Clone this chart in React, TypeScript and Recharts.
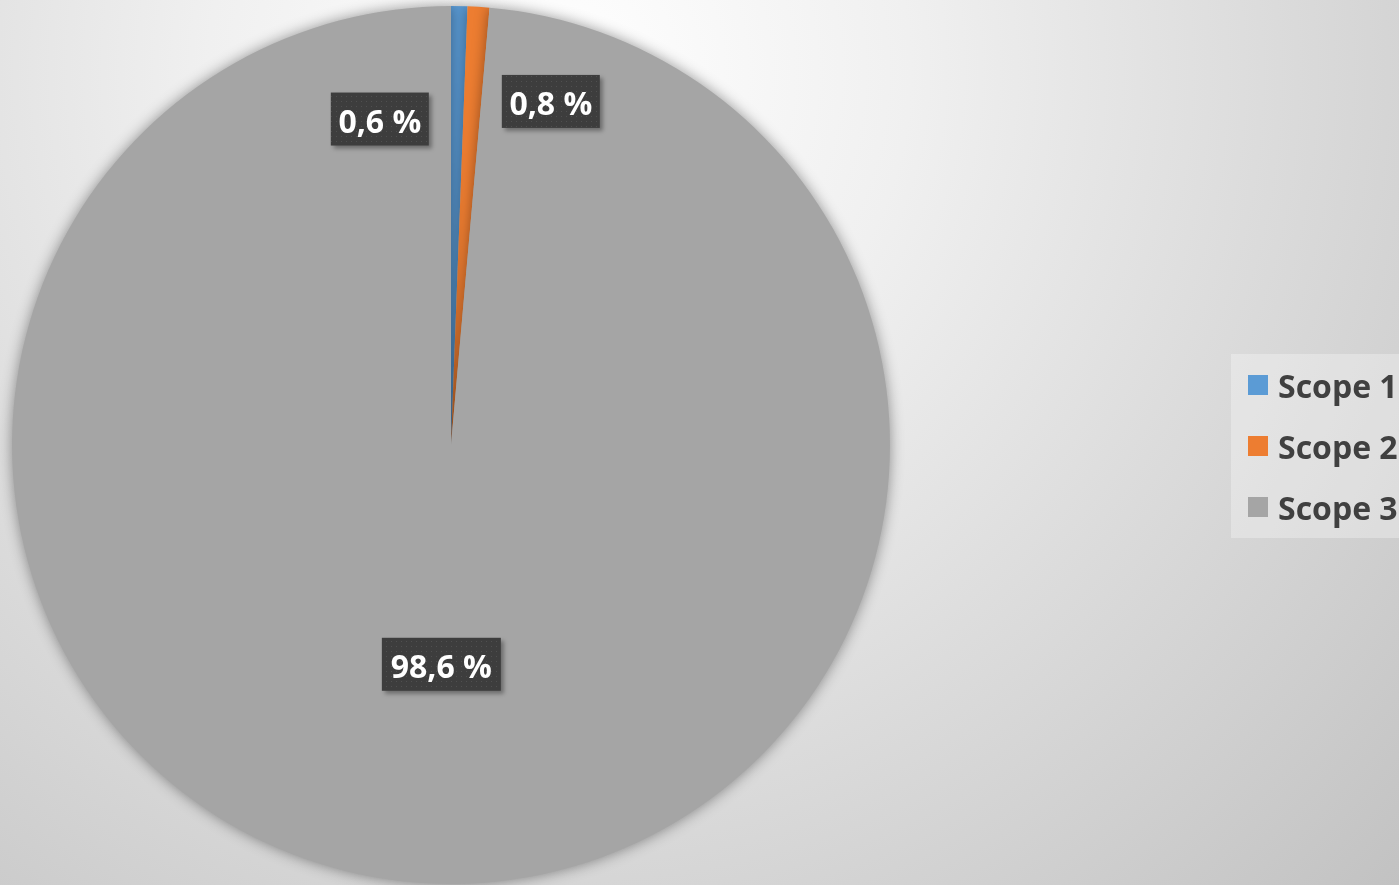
import { PieChart, Pie, Cell, Legend } from "recharts";

const scopes = ["Scope 1", "Scope 2", "Scope 3"];
const shares = [0.6, 0.8, 98.6];
const colors = ["#5B9BD5", "#ED7D31", "#A5A5A5"];

const data = scopes.map((name, i) => ({ name, value: shares[i] }));

// excel "best fit" pushes the two tiny labels apart
const labelPlacement = [
  { dAngle: 13.4, r: 0.76 },
  { dAngle: -12.6, r: 0.815 },
  { dAngle: 0, r: 0.5 },
];

const RADIAN = Math.PI / 180;
const FONT = "'Open Sans', 'DejaVu Sans', sans-serif";

const fmt = (v: number) => v.toFixed(1).replace(".", ",") + " %";

function renderLabel(props: any) {
  const { cx, cy, midAngle, outerRadius, index } = props;
  const p = labelPlacement[index];
  const a = (midAngle + p.dAngle) * RADIAN;
  const x = cx + outerRadius * p.r * Math.cos(a);
  const y = cy - outerRadius * p.r * Math.sin(a);
  const text = fmt(shares[index]);
  const w = text.length * 21 - 7;
  const h = 53;
  return (
    <g key={`lbl-${index}`}>
      <rect
        x={x - w / 2 + 3}
        y={y - h / 2 + 3}
        width={w}
        height={h}
        fill="rgba(0,0,0,0.35)"
        filter="url(#softBlur)"
      />
      <rect x={x - w / 2} y={y - h / 2} width={w} height={h} fill="url(#dots)" />
      <text
        x={x}
        y={y + 1}
        textAnchor="middle"
        dominantBaseline="central"
        fill="#ffffff"
        fontSize={32}
        fontWeight={700}
        fontFamily={FONT}
      >
        {text}
      </text>
    </g>
  );
}

function LegendBox() {
  return (
    <div
      style={{
        position: "relative",
        width: 200,
        height: 184,
        background: "rgba(255,255,255,0.3)",
        fontFamily: FONT,
      }}
    >
      {scopes.map((s, i) => (
        <div
          key={s}
          style={{
            position: "absolute",
            left: 17,
            top: 31 + i * 61 - 20,
            height: 40,
            display: "flex",
            alignItems: "center",
            whiteSpace: "nowrap",
          }}
        >
          <span
            style={{
              display: "inline-block",
              width: 20,
              height: 20,
              background: colors[i],
              marginRight: 10,
            }}
          />
          <span style={{ fontSize: 32, fontWeight: 700, color: "#404040" }}>{s}</span>
        </div>
      ))}
    </div>
  );
}

export default function App() {
  return (
    <div
      style={{
        position: "fixed",
        left: 0,
        top: 0,
        width: 1399,
        height: 885,
        overflow: "hidden",
        background:
          "radial-gradient(circle at 40% 8%, #ffffff 0%, #f0f0f0 30%, #dcdcdc 60%, #c2c2c2 100%)",
      }}
    >
      <style>{`.recharts-pie-sector { filter: drop-shadow(0 0 7px rgba(0,0,0,0.4)); }`}</style>
      <PieChart width={1399} height={885} margin={{ top: 0, right: 0, bottom: 0, left: 0 }}>
        <defs>
          <pattern id="dots" width="5" height="5" patternUnits="userSpaceOnUse">
            <rect width="5" height="5" fill="#3d3d3d" />
            <rect x="1" y="1" width="1" height="1" fill="#505050" />
          </pattern>
          <filter id="softBlur" x="-20%" y="-20%" width="140%" height="140%">
            <feGaussianBlur stdDeviation="2" />
          </filter>
        </defs>
        <Pie
          data={data}
          dataKey="value"
          nameKey="name"
          cx={451}
          cy={445}
          outerRadius={439}
          startAngle={90}
          endAngle={-270}
          stroke="none"
          label={renderLabel}
          labelLine={false}
          isAnimationActive={false}
        >
          {data.map((d, i) => (
            <Cell key={d.name} fill={colors[i]} />
          ))}
        </Pie>
        <Legend
          content={() => <LegendBox />}
          wrapperStyle={{ position: "absolute", left: 1231, top: 354, width: 200, height: 184 }}
        />
      </PieChart>
    </div>
  );
}
